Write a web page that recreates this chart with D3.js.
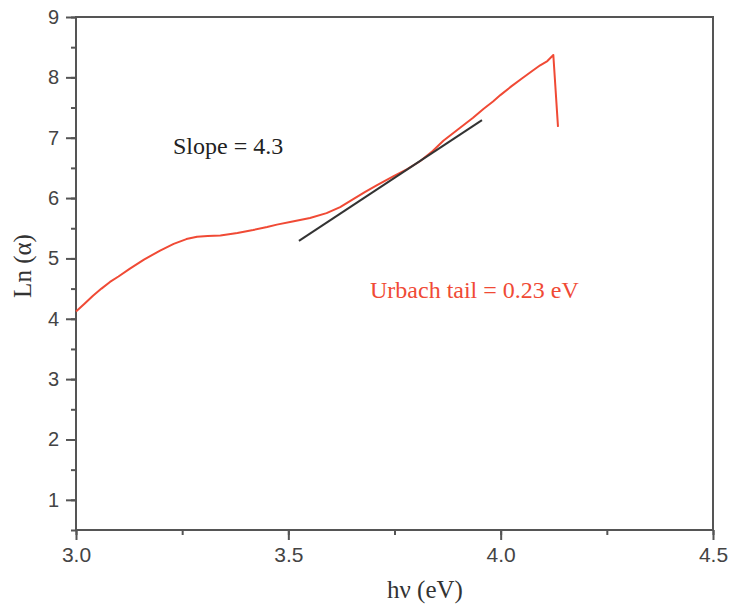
<!DOCTYPE html>
<html>
<head>
<meta charset="utf-8">
<script src="https://cdn.jsdelivr.net/npm/d3@7"></script>
<style>
  body { margin: 0; background: #fff; }
  .tick text { font-family: "Liberation Sans", Arial, sans-serif; fill: #444; }
  .axis path, .axis line { stroke: #555; }
</style>
</head>
<body>
<svg width="729" height="610"></svg>
<script>
const hv = [3.000, 3.020, 3.040, 3.060, 3.080, 3.100, 3.127, 3.160, 3.198, 3.230,
  3.260, 3.285, 3.310, 3.340, 3.380, 3.417, 3.450, 3.473, 3.510, 3.551,
  3.590, 3.622, 3.650, 3.680, 3.710, 3.747, 3.780, 3.810, 3.840, 3.865,
  3.900, 3.935, 3.960, 3.982, 4.000, 4.025, 4.050, 4.075, 4.093, 4.110,
  4.124, 4.135];
const lnAlpha = [4.12, 4.25, 4.38, 4.50, 4.61, 4.70, 4.83, 4.98, 5.13, 5.24,
  5.32, 5.36, 5.37, 5.38, 5.42, 5.47, 5.52, 5.56, 5.61, 5.67,
  5.75, 5.85, 5.97, 6.10, 6.22, 6.36, 6.48, 6.61, 6.78, 6.95,
  7.14, 7.33, 7.48, 7.60, 7.71, 7.85, 7.98, 8.11, 8.20, 8.27,
  8.37, 7.18];
const fitX = [3.525, 3.956];
const fitY = [5.29, 7.29];
const xTicks = [3.0, 3.5, 4.0, 4.5];
const yTicks = [1, 2, 3, 4, 5, 6, 7, 8, 9];

const svg = d3.select('svg');
const plotLeft = 76, plotRight = 713, plotTop = 17, plotBottom = 530;

const x = d3.scaleLinear().domain([3.0, 4.5]).range([plotLeft, plotRight]);
const y = d3.scaleLinear().domain([0.5, 9]).range([plotBottom, plotTop]);

// frame
svg.append('rect')
  .attr('x', plotLeft).attr('y', plotTop)
  .attr('width', plotRight - plotLeft).attr('height', plotBottom - plotTop)
  .attr('fill', 'none').attr('stroke', '#555').attr('stroke-width', 2);

// minor ticks
svg.append('g')
  .attr('class', 'axis')
  .attr('transform', `translate(0,${plotBottom})`)
  .call(d3.axisBottom(x).tickValues(d3.range(3.0, 4.51, 0.25)).tickSize(5).tickFormat(''))
  .call(g => g.select('.domain').remove())
  .selectAll('line').attr('stroke-width', 2);
svg.append('g')
  .attr('class', 'axis')
  .attr('transform', `translate(${plotLeft},0)`)
  .call(d3.axisLeft(y).tickValues(d3.range(0.5, 9.01, 0.5)).tickSize(5).tickFormat(''))
  .call(g => g.select('.domain').remove())
  .selectAll('line').attr('stroke-width', 2);

// major ticks
const xAxis = svg.append('g')
  .attr('class', 'axis')
  .attr('transform', `translate(0,${plotBottom})`)
  .call(d3.axisBottom(x).tickValues(xTicks).tickSize(10).tickPadding(7).tickFormat(d3.format('.1f')));
xAxis.select('.domain').remove();
xAxis.selectAll('line').attr('stroke-width', 2);
xAxis.selectAll('text').attr('font-size', 21);

const yAxis = svg.append('g')
  .attr('class', 'axis')
  .attr('transform', `translate(${plotLeft},0)`)
  .call(d3.axisLeft(y).tickValues(yTicks).tickSize(10).tickPadding(7).tickFormat(d3.format('d')));
yAxis.select('.domain').remove();
yAxis.selectAll('line').attr('stroke-width', 2);
yAxis.selectAll('text').attr('font-size', 20);

// data curve
const line = d3.line().x((d, i) => x(hv[i])).y(d => y(d));
svg.append('path')
  .datum(lnAlpha)
  .attr('fill', 'none')
  .attr('stroke', '#f04a35')
  .attr('stroke-width', 2)
  .attr('stroke-linejoin', 'round')
  .attr('d', line);

// linear fit
svg.append('line')
  .attr('x1', x(fitX[0])).attr('y1', y(fitY[0]))
  .attr('x2', x(fitX[1])).attr('y2', y(fitY[1]))
  .attr('stroke', '#333').attr('stroke-width', 2);

const serif = '"Liberation Serif", "Times New Roman", serif';

svg.append('text')
  .attr('x', 173).attr('y', 154)
  .attr('font-family', serif).attr('font-size', 24).attr('fill', '#222')
  .text('Slope = 4.3');

svg.append('text')
  .attr('x', 370).attr('y', 298)
  .attr('font-family', serif).attr('font-size', 24).attr('fill', '#f04a35')
  .text('Urbach tail = 0.23 eV');

svg.append('text')
  .attr('x', 425).attr('y', 598)
  .attr('text-anchor', 'middle')
  .attr('font-family', serif).attr('font-size', 25).attr('fill', '#333')
  .text('hν (eV)');

svg.append('text')
  .attr('transform', 'translate(31,266) rotate(-90)')
  .attr('text-anchor', 'middle')
  .attr('font-family', serif).attr('font-size', 25).attr('fill', '#333')
  .text('Ln (α)');
</script>
</body>
</html>
